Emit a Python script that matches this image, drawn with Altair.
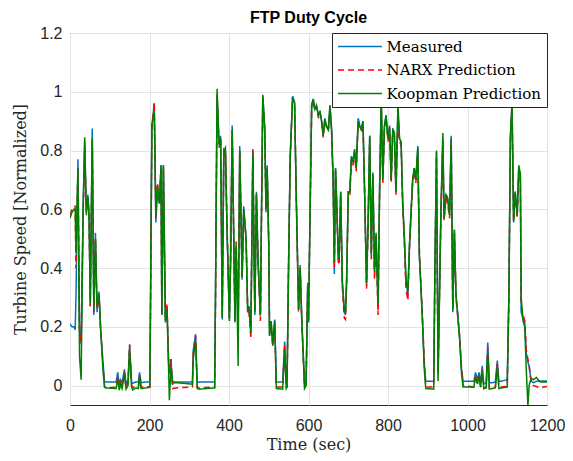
import altair as alt
import pandas as pd

series_names = ["Measured", "NARX Prediction", "Koopman Prediction"]
series_colors = ["#0072BD", "#FF0000", "#008000"]

time_s = [
    0, 5, 10, 13, 15, 20, 24, 28, 33, 37,
    41, 45, 48, 51, 56, 60, 64, 68, 73, 77,
    83, 87, 90, 116, 120, 124, 127, 131, 137, 141,
    146, 150, 155, 158, 165, 172, 175, 179, 190, 201,
    206, 212, 216, 220, 225, 229, 231, 235, 240, 244,
    248, 250, 254, 258, 266, 308, 310, 316, 320, 325,
    364, 366, 370, 375, 379, 383, 387, 391, 395, 401,
    404, 408, 415, 418, 423, 427, 433, 437, 443, 447,
    450, 455, 460, 465, 469, 473, 479, 485, 490, 493,
    496, 500, 502, 506, 510, 515, 519, 535, 540, 544,
    546, 550, 554, 560, 565, 569, 575, 579, 583, 590,
    594, 598, 600, 604, 608, 612, 616, 620, 625, 629,
    633, 637, 641, 645, 650, 654, 658, 662, 665, 668,
    671, 675, 677, 681, 685, 690, 693, 696, 700, 704,
    708, 712, 716, 720, 725, 729, 733, 737, 741, 746,
    750, 754, 758, 762, 766, 770, 775, 779, 783, 787,
    791, 795, 800, 804, 808, 812, 816, 820, 825, 829,
    833, 837, 841, 845, 850, 854, 858, 862, 866, 870,
    875, 879, 883, 887, 891, 895, 915, 918, 922, 926,
    933, 938, 941, 946, 950, 955, 959, 963, 967, 971,
    975, 980, 985, 989, 1016, 1020, 1025, 1029, 1033, 1037,
    1041, 1047, 1051, 1055, 1062, 1070, 1075, 1079, 1085, 1100,
    1104, 1108, 1112, 1116, 1120, 1125, 1129, 1133, 1135, 1140,
    1144, 1148, 1152, 1155, 1160, 1166, 1173, 1183, 1192, 1200,
]

measured = [
    0.21, 0.20, 0.20, 0.19, 0.30, 0.77, 0.20, 0.14, 0.60, 0.83,
    0.59, 0.65, 0.58, 0.27, 0.875, 0.24, 0.52, 0.25, 0.32, 0.19,
    0.08, 0.012, 0.012, 0.012, 0.045, 0.005, 0.02, 0.01, 0.055, 0.005,
    0.02, 0.14, 0.01, 0.008, 0.012, 0.012, 0.045, 0.01, 0.012, 0.013,
    0.885, 0.96, 0.555, 0.66, 0.62, 0.75, 0.24, 0.75, 0.215, 0.27,
    0.08, 0.04, 0.09, 0.005, 0.012, 0.012, 0.12, 0.175, 0.01, 0.012,
    0.012, 0.30, 0.99, 0.82, 0.85, 0.225, 0.805, 0.80, 0.53, 0.225,
    0.42, 0.885, 0.215, 0.475, 0.20, 0.815, 0.36, 0.61, 0.50, 0.25,
    0.27, 0.18, 0.805, 0.24, 0.66, 0.42, 0.24, 0.985, 0.875, 0.59,
    0.75, 0.475, 0.17, 0.215, 0.135, 0.225, 0.012, 0.012, 0.15, 0.01,
    0.012, 0.42, 0.78, 0.985, 0.965, 0.65, 0.26, 0.41, 0.225, 0.01,
    0.02, 0.35, 0.215, 0.60, 0.955, 0.976, 0.94, 0.955, 0.92, 0.935,
    0.90, 0.85, 0.91, 0.885, 0.875, 0.955, 0.875, 0.70, 0.38, 0.74,
    0.62, 0.43, 0.42, 0.66, 0.35, 0.25, 0.24, 0.36, 0.66, 0.66,
    0.78, 0.76, 0.805, 0.74, 0.91, 0.885, 0.875, 0.90, 0.67, 0.34,
    0.555, 0.85, 0.44, 0.725, 0.385, 0.51, 0.26, 0.68, 0.965, 0.70,
    0.885, 0.92, 0.84, 0.885, 0.70, 0.875, 0.86, 0.66, 0.93, 0.84,
    0.83, 0.62, 0.51, 0.36, 0.31, 0.475, 0.59, 0.70, 0.74, 0.70,
    0.815, 0.44, 0.33, 0.215, 0.08, 0.015, 0.015, 0.40, 0.795, 0.05,
    0.58, 0.84, 0.57, 0.65, 0.635, 0.58, 0.85, 0.25, 0.53, 0.305,
    0.25, 0.17, 0.055, 0.015, 0.015, 0.045, 0.02, 0.045, 0.01, 0.067,
    0.005, 0.01, 0.147, 0.01, 0.01, 0.012, 0.085, 0.015, 0.015, 0.02,
    0.30, 0.85, 0.955, 0.555, 0.66, 0.58, 0.74, 0.715, 0.25, 0.225,
    0.215, 0.11, 0.08, 0.067, 0.015, 0.01, 0.015, 0.015, 0.016, 0.016,
]

narx = [
    0.58, 0.60, 0.61, 0.61, 0.40, 0.74, 0.17, 0.15, 0.58, 0.81,
    0.60, 0.64, 0.57, 0.27, 0.84, 0.25, 0.50, 0.26, 0.31, 0.19,
    0.07, -0.005, -0.008, -0.005, 0.03, -0.005, 0.01, -0.005, 0.045, -0.008,
    0.01, 0.14, 0.0, -0.005, -0.008, -0.005, 0.035, -0.005, -0.005, -0.003,
    0.87, 0.965, 0.57, 0.69, 0.63, 0.74, 0.25, 0.74, 0.22, 0.28,
    0.09, 0.06, 0.09, -0.01, -0.008, -0.005, 0.11, 0.17, -0.005, -0.008,
    -0.005, 0.28, 0.98, 0.81, 0.84, 0.23, 0.79, 0.80, 0.55, 0.23,
    0.43, 0.87, 0.22, 0.49, 0.21, 0.80, 0.37, 0.60, 0.50, 0.25,
    0.26, 0.16, 0.80, 0.25, 0.65, 0.43, 0.22, 0.98, 0.86, 0.60,
    0.74, 0.49, 0.18, 0.20, 0.14, 0.21, -0.005, -0.005, 0.14, -0.005,
    -0.005, 0.43, 0.77, 0.98, 0.96, 0.66, 0.25, 0.40, 0.22, -0.005,
    0.01, 0.34, 0.22, 0.58, 0.95, 0.97, 0.935, 0.95, 0.91, 0.93,
    0.895, 0.845, 0.90, 0.88, 0.87, 0.95, 0.87, 0.69, 0.40, 0.73,
    0.61, 0.42, 0.41, 0.65, 0.34, 0.23, 0.225, 0.35, 0.65, 0.65,
    0.77, 0.75, 0.79, 0.73, 0.90, 0.875, 0.87, 0.89, 0.66, 0.33,
    0.54, 0.84, 0.43, 0.71, 0.36, 0.50, 0.24, 0.67, 0.955, 0.69,
    0.87, 0.91, 0.83, 0.875, 0.69, 0.865, 0.85, 0.65, 0.92, 0.83,
    0.82, 0.61, 0.49, 0.33, 0.29, 0.46, 0.58, 0.69, 0.73, 0.69,
    0.80, 0.45, 0.34, 0.22, 0.09, -0.005, -0.005, 0.38, 0.78, 0.04,
    0.57, 0.83, 0.56, 0.64, 0.62, 0.57, 0.83, 0.26, 0.52, 0.30,
    0.24, 0.17, 0.06, 0.0, -0.005, 0.035, 0.01, 0.035, -0.005, 0.055,
    -0.01, -0.005, 0.13, -0.01, -0.008, -0.005, 0.075, -0.005, -0.005, -0.003,
    0.28, 0.84, 0.96, 0.56, 0.65, 0.57, 0.73, 0.70, 0.27, 0.24,
    0.22, 0.12, 0.09, 0.07, 0.01, 0.0, -0.003, -0.008, -0.005, -0.003,
]

koopman = [
    0.57, 0.59, 0.60, 0.60, 0.45, 0.74, 0.10, 0.02, 0.60, 0.845,
    0.58, 0.64, 0.58, 0.28, 0.84, 0.26, 0.50, 0.27, 0.31, 0.20,
    0.05, -0.005, -0.008, -0.01, 0.02, -0.015, 0.005, -0.01, 0.04, -0.012,
    0.0, 0.12, -0.005, -0.015, -0.008, -0.01, 0.03, -0.01, -0.008, -0.006,
    0.885, 0.93, 0.58, 0.68, 0.62, 0.75, 0.24, 0.75, 0.22, 0.26,
    0.06, -0.05, 0.06, 0.015, 0.01, 0.005, 0.09, 0.15, -0.01, -0.012,
    -0.008, 0.30, 1.01, 0.82, 0.84, 0.23, 0.80, 0.81, 0.54, 0.22,
    0.42, 0.87, 0.22, 0.48, 0.067, 0.80, 0.37, 0.60, 0.50, 0.26,
    0.27, 0.18, 0.79, 0.25, 0.65, 0.43, 0.24, 0.99, 0.87, 0.60,
    0.74, 0.48, 0.17, 0.22, 0.14, 0.22, -0.01, -0.012, 0.12, -0.01,
    -0.005, 0.42, 0.78, 0.98, 0.96, 0.66, 0.26, 0.40, 0.23, -0.01,
    0.0, 0.34, 0.22, 0.59, 0.955, 0.975, 0.94, 0.95, 0.92, 0.93,
    0.90, 0.85, 0.905, 0.88, 0.87, 0.95, 0.87, 0.70, 0.42, 0.74,
    0.62, 0.44, 0.43, 0.66, 0.36, 0.26, 0.25, 0.37, 0.66, 0.66,
    0.78, 0.76, 0.80, 0.74, 0.90, 0.88, 0.87, 0.90, 0.67, 0.35,
    0.56, 0.85, 0.45, 0.72, 0.39, 0.52, 0.28, 0.68, 0.98, 0.70,
    0.88, 0.92, 0.84, 0.88, 0.70, 0.87, 0.86, 0.66, 0.96, 0.84,
    0.83, 0.62, 0.51, 0.37, 0.32, 0.48, 0.59, 0.70, 0.74, 0.70,
    0.81, 0.44, 0.33, 0.21, 0.06, -0.01, -0.012, 0.40, 0.80, 0.015,
    0.58, 0.86, 0.57, 0.65, 0.64, 0.58, 0.84, 0.26, 0.53, 0.31,
    0.25, 0.16, 0.04, -0.005, -0.005, 0.03, 0.005, 0.03, -0.005, 0.05,
    -0.01, -0.008, 0.11, -0.012, -0.01, -0.008, 0.06, -0.01, -0.008, -0.005,
    0.30, 0.85, 0.96, 0.56, 0.66, 0.58, 0.75, 0.72, 0.30, 0.22,
    0.20, 0.05, -0.07, 0.0, 0.025, 0.02, 0.028, 0.012, 0.012, 0.012,
]

x_ticks = [0, 200, 400, 600, 800, 1000, 1200]
y_ticks = [0, 0.2, 0.4, 0.6, 0.8, 1.0, 1.2]

frames = []
for name, vals in zip(series_names, [measured, narx, koopman]):
    n = min(len(time_s), len(vals))
    frames.append(pd.DataFrame({"t": time_s[:n], "v": vals[:n], "series": name}))
df = pd.concat(frames, ignore_index=True)

x_enc = alt.X("t:Q", scale=alt.Scale(domain=[0, 1200], nice=False),
              axis=alt.Axis(values=x_ticks, title="Time (sec)", format="d", labelFlush=False))
y_enc = alt.Y("v:Q", scale=alt.Scale(domain=[-0.066, 1.2], nice=False, zero=False),
              axis=alt.Axis(values=y_ticks, title="Turbine Speed [Normalized]", format="~g",
                            labelFlush=False))
color_enc = alt.Color("series:N", scale=alt.Scale(domain=series_names, range=series_colors),
                      sort=series_names, title=None)
dash_enc = alt.StrokeDash("series:N", scale=alt.Scale(domain=series_names, range=[[1, 0], [6, 4], [1, 0]]),
                          sort=series_names, title=None)

layers = []
for name in series_names:
    layers.append(
        alt.Chart(df).transform_filter(alt.datum.series == name)
        .mark_line(strokeWidth=1.5, clip=True)
        .encode(x=x_enc, y=y_enc, color=color_enc, strokeDash=dash_enc)
    )

chart = alt.layer(*layers).properties(
    width=477, height=372,
    title=alt.TitleParams("FTP Duty Cycle", fontSize=16, fontWeight="bold", font="Liberation Sans",
                          color="#000000", offset=-1),
    autosize=alt.AutoSizeParams(type="none"),
    padding={"left": 62, "top": 25, "right": 18, "bottom": 48},
).configure_view(
    stroke="#262626", strokeWidth=1
).configure_axis(
    grid=True, gridColor="#e3e3e3", gridWidth=1, domain=False, ticks=False,
    labelFont="Liberation Sans", labelFontSize=16, labelColor="#262626",
    titleFont="DejaVu Serif", titleFontSize=16, titleFontWeight="normal", titleColor="#262626",
).configure_axisX(
    labelPadding=12, titlePadding=3
).configure_axisY(
    labelPadding=8, titlePadding=11
).configure_legend(
    orient="top-right", offset=0, padding=5, fillColor="#ffffff", strokeColor="#262626",
    strokeWidth=1, symbolType="M-2.93,0H2.93", symbolSize=225, symbolStrokeWidth=1.5,
    symbolOffset=14.5, labelFont="DejaVu Serif", labelFontSize=15, labelColor="#000000",
    labelOffset=18, rowPadding=6.5, cornerRadius=0,
)

chart.save("out.html", embed_options={"renderer": "svg", "actions": False})
